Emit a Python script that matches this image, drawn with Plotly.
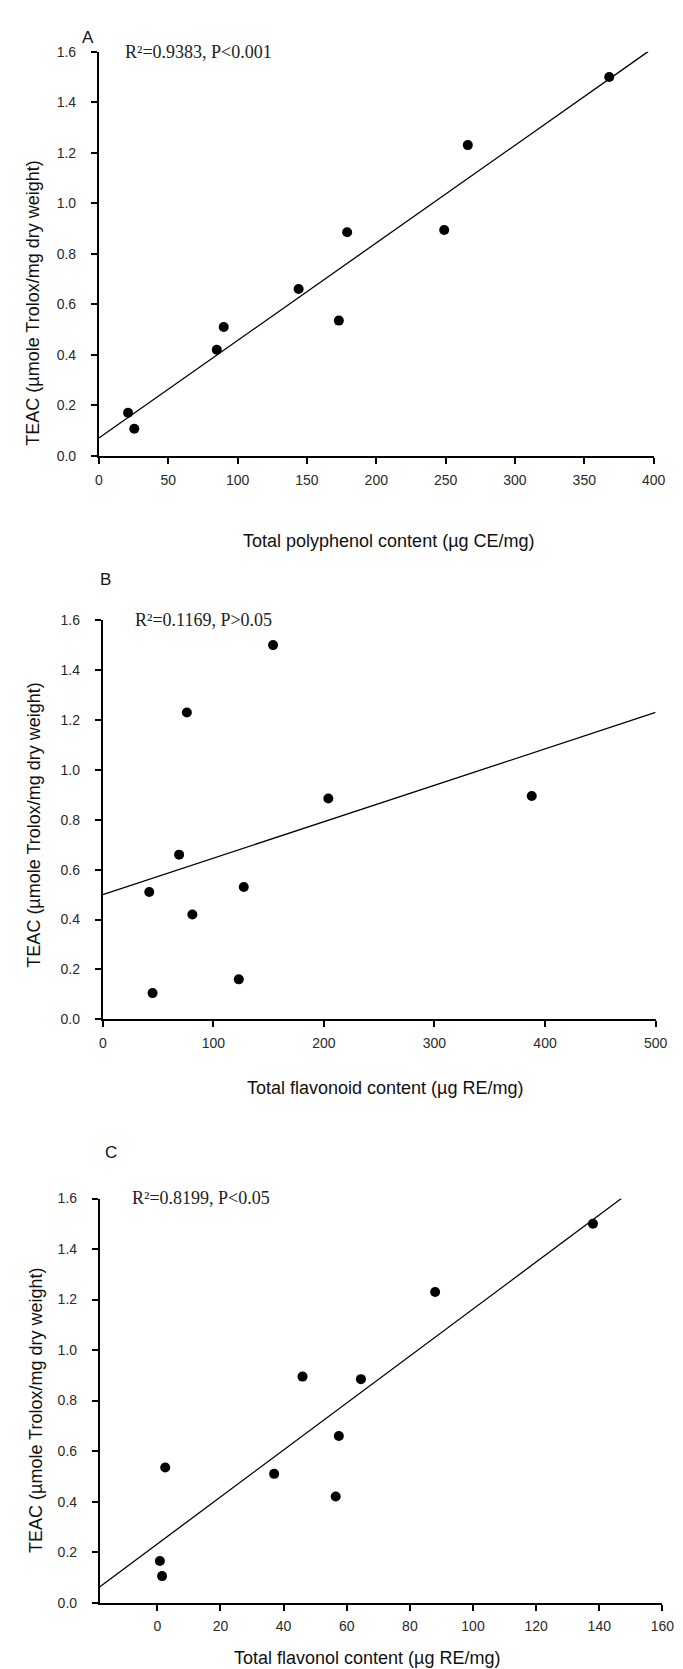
import plotly.graph_objects as go

W, H = 683, 1669

# ---------------- data ----------------
# Panel A: total polyphenol content vs TEAC
poly_x = [368, 266, 179, 249, 144, 173, 90, 85, 21, 25.5]
poly_teac = [1.50, 1.23, 0.885, 0.894, 0.66, 0.535, 0.51, 0.42, 0.17, 0.107]
fit_a_x = [0, 396]
fit_a_y = [0.07, 1.60]

# Panel B: total flavonoid content vs TEAC
flav_x = [154, 76, 204, 388, 69, 127.5, 42, 81, 123, 45]
flav_teac = [1.50, 1.23, 0.885, 0.895, 0.66, 0.53, 0.51, 0.42, 0.16, 0.105]
fit_b_x = [0, 500]
fit_b_y = [0.50, 1.23]

# Panel C: total flavonol content vs TEAC
flavonol_x = [138, 88, 46, 64.5, 57.5, 2.5, 37, 56.5, 0.8, 1.5]
flavonol_teac = [1.50, 1.23, 0.895, 0.885, 0.66, 0.535, 0.51, 0.42, 0.165, 0.105]
fit_c_x = [-18.2, 147]
fit_c_y = [0.063, 1.60]

x_ticks_a = [0, 50, 100, 150, 200, 250, 300, 350, 400]
x_ticks_b = [0, 100, 200, 300, 400, 500]
x_ticks_c = [0, 20, 40, 60, 80, 100, 120, 140, 160]
y_ticks = [0.0, 0.2, 0.4, 0.6, 0.8, 1.0, 1.2, 1.4, 1.6]

labels = ["A", "B", "C"]
stats = ["R²=0.9383, P&lt;0.001",
         "R²=0.1169, P&gt;0.05",
         "R²=0.8199, P&lt;0.05"]
x_titles = ["Total polyphenol content (µg CE/mg)",
            "Total flavonoid content (µg RE/mg)",
            "Total flavonol content (µg RE/mg)"]
y_title = "TEAC (µmole Trolox/mg dry weight)"

# ---------------- layout helpers ----------------
def px_x(p):
    return p / W

def px_y(p):
    return 1 - p / H

# plot boxes in pixels: left, right, top, bottom
boxes = [(89, 657, 36, 444), (93, 659, 610, 1013), (90, 666, 1194, 1602)]
x_ranges = [[0, 400], [0, 500], [-18.2, 160]]
x_tickvals = [x_ticks_a, x_ticks_b, x_ticks_c]
scatter_x = [poly_x, flav_x, flavonol_x]
scatter_y = [poly_teac, flav_teac, flavonol_teac]
fit_x = [fit_a_x, fit_b_x, fit_c_x]
fit_y = [fit_a_y, fit_b_y, fit_c_y]

label_pos = [(78, 22), (96, 569), (101, 1147)]
stat_pos = [(114, 36), (124, 610), (121, 1193)]
xtitle_pos = [(386, 530), (382, 1082), (364, 1658)]
ytitle_pos = [(22, 290), (23, 817), (24, 1408)]

TICK_FONT = dict(family="Liberation Sans, Arial, sans-serif", size=14, color="#2a2a2a")
TITLE_FONT = dict(family="Liberation Sans, Arial, sans-serif", size=18, color="#111111")
SERIF_FONT = dict(family="Liberation Serif, Times New Roman, serif", size=18, color="#222222")

fig = go.Figure()
annotations = []
layout_axes = {}

for i in range(3):
    sfx = "" if i == 0 else str(i + 1)
    xa, ya = "x" + sfx, "y" + sfx
    l, r, t, b = boxes[i]
    layout_axes["xaxis" + sfx] = dict(
        domain=[px_x(l), px_x(r)], range=x_ranges[i], anchor=ya,
        tickvals=x_tickvals[i], ticks="outside", ticklen=6, tickwidth=1.8,
        tickcolor="black", showline=True, linecolor="black", linewidth=2,
        showgrid=False, zeroline=False, tickfont=TICK_FONT,
        ticklabelstandoff=4, fixedrange=True)
    layout_axes["yaxis" + sfx] = dict(
        domain=[px_y(b), px_y(t)], range=[0, 1.6], anchor=xa,
        tickvals=y_ticks, tickformat=".1f", ticks="outside", ticklen=6,
        tickwidth=1.8, tickcolor="black", showline=True, linecolor="black",
        linewidth=2, showgrid=False, zeroline=False, tickfont=TICK_FONT,
        ticklabelstandoff=12, fixedrange=True)

    fig.add_trace(go.Scatter(x=fit_x[i], y=fit_y[i], mode="lines",
                             line=dict(color="black", width=1.3),
                             xaxis=xa, yaxis=ya, showlegend=False,
                             hoverinfo="skip", cliponaxis=True))
    fig.add_trace(go.Scatter(x=scatter_x[i], y=scatter_y[i], mode="markers",
                             marker=dict(color="black", size=10),
                             xaxis=xa, yaxis=ya, showlegend=False,
                             cliponaxis=False))

    lx, ly = label_pos[i]
    annotations.append(dict(text=labels[i], x=px_x(lx), y=px_y(ly),
                            xref="paper", yref="paper", showarrow=False,
                            xanchor="center", yanchor="middle",
                            font=dict(family="Liberation Sans, Arial, sans-serif",
                                      size=17, color="#111111")))
    sx, sy = stat_pos[i]
    annotations.append(dict(text=stats[i], x=px_x(sx), y=px_y(sy),
                            xref="paper", yref="paper", showarrow=False,
                            xanchor="left", yanchor="middle", font=SERIF_FONT))
    tx, ty = xtitle_pos[i]
    annotations.append(dict(text=x_titles[i], x=px_x(tx), y=px_y(ty),
                            xref="paper", yref="paper", showarrow=False,
                            xanchor="center", yanchor="middle", font=TITLE_FONT))
    yx, yy = ytitle_pos[i]
    annotations.append(dict(text=y_title, x=px_x(yx), y=px_y(yy),
                            xref="paper", yref="paper", showarrow=False,
                            textangle=-90, xanchor="center", yanchor="middle",
                            font=TITLE_FONT))

fig.update_layout(width=W, height=H, margin=dict(l=0, r=0, t=0, b=0),
                  paper_bgcolor="white", plot_bgcolor="white",
                  annotations=annotations, **layout_axes)

fig.write_html("out.html")
